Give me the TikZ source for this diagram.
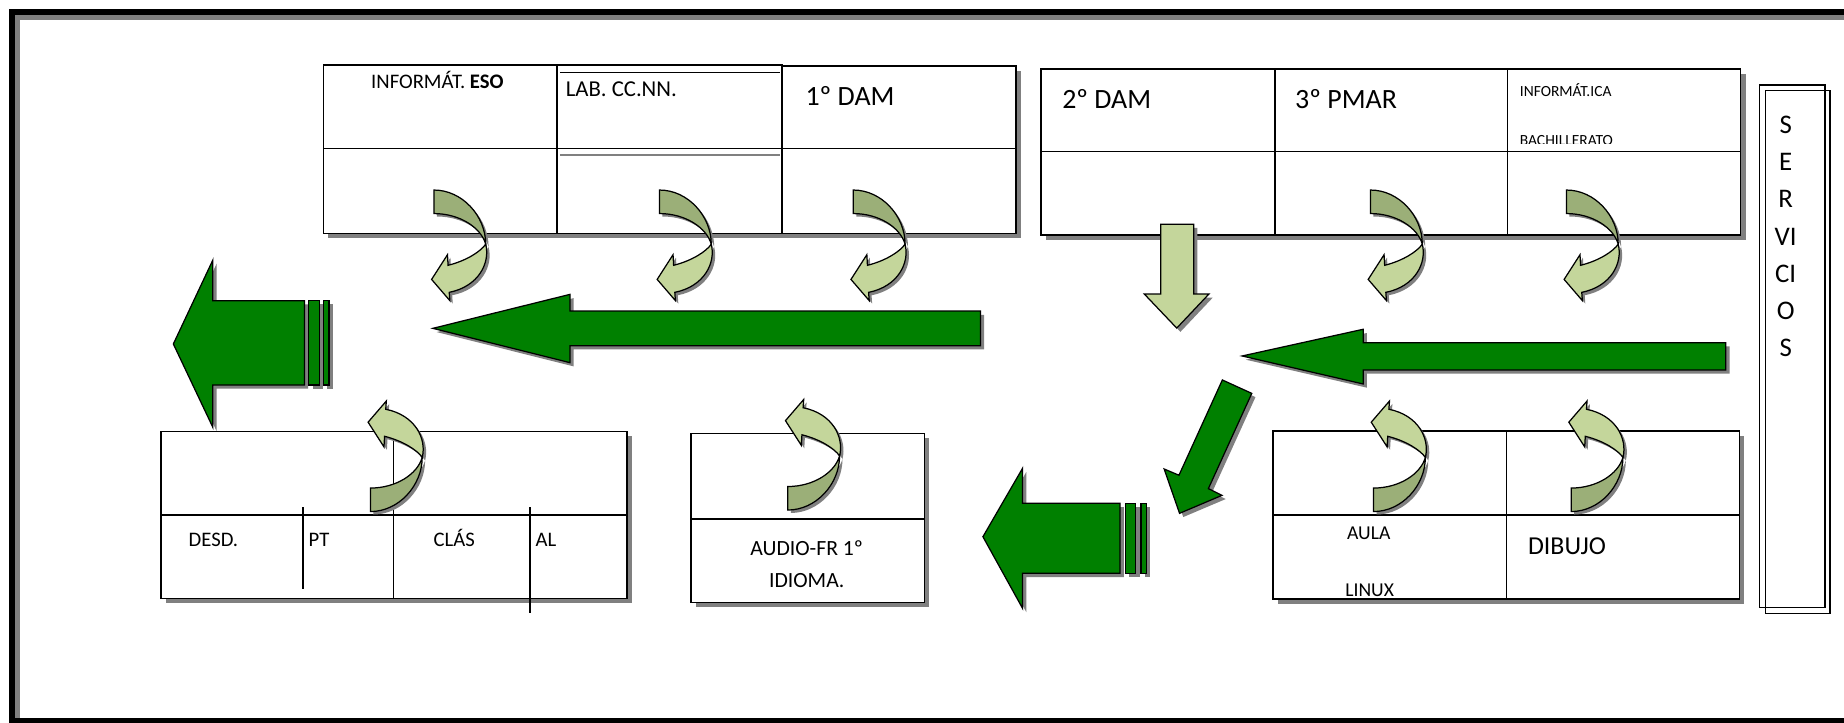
\documentclass[tikz,border=0pt]{standalone}
\usepackage{fontspec}
\setmainfont{Carlito}
\usepackage{xcolor}
\usetikzlibrary{shadows}

\definecolor{arrowgreen}{RGB}{0,128,0}
\definecolor{lightolive}{RGB}{196,214,155}
\definecolor{darkolive}{RGB}{155,175,120}
\definecolor{shadowgrey}{RGB}{128,128,128}

% the twisted band of a curved arrow, tail at the origin
\newcommand{\backband}{(0,0) .. controls (24,0) and (44,22) .. (44,46) .. controls (40,32) and (22,20) .. (0,20) -- cycle}
\newcommand{\frontband}{(44,46) .. controls (48,62) and (38,82) .. (13,87) -- (13.5,94) -- (-2,76) -- (11.5,55) -- (12,64) .. controls (28,60) and (40,52) .. (44,46) -- cycle}

\tikzset{
  room/.style={draw, fill=white, line width=0.7pt,
    drop shadow={shadow xshift=2.3pt, shadow yshift=-2.3pt, fill=shadowgrey, opacity=1}},
  wall/.style={line width=0.7pt},
  blockarrow/.style={draw, line width=0.6pt, fill=arrowgreen,
    drop shadow={shadow xshift=1.8pt, shadow yshift=-1.8pt, fill=shadowgrey, opacity=1}},
  txt/.style={inner sep=0pt, anchor=base west},
  bigtxt/.style={txt, font=\fontsize{13.5}{16}\selectfont},
  midtxt/.style={txt, font=\fontsize{10}{12}\selectfont},
  smalltxt/.style={txt, font=\fontsize{7.5}{9}\selectfont},
  pics/curvarrow/.style={code={
    \begin{scope}[yscale=#1]
      \fill[shadowgrey, shift={(2.5,2.5*#1)}] \backband;
      \fill[shadowgrey, shift={(2.5,2.5*#1)}] \frontband;
      \filldraw[fill=darkolive, line width=0.6pt] \backband;
      \filldraw[fill=lightolive, line width=0.6pt] \frontband;
    \end{scope}
  }}
}

\begin{document}
\begin{tikzpicture}[x=0.02cm, y=-0.02cm]
    \useasboundingbox (0,0) rectangle (1568,614);
    \clip (0,0) rectangle (1568,614);

    % frame
    \draw[shadowgrey, line width=2.4pt] (14.9,610.5) -- (14.9,14.9) -- (1600,14.9);
    \draw[line width=2.9pt] (10.2,10.2) rectangle (1600,613);

    % upper rooms, left
    \draw[room] (275,55.3) rectangle (473.5,198.4);
    \draw[room] (473.5,55.3) rectangle (665,198.4);
    \draw[room] (665,56) rectangle (864,198.4);
    \draw[wall] (275,126.5) -- (864,126.5) (476,61.8) -- (663,61.8);
    \draw[wall, shadowgrey] (476,131.8) -- (663,131.8);

    % upper rooms, right
    \draw[room] (885,58.7) rectangle (1480.2,199.8);
    \draw[wall] (885,129) -- (1480.2,129) (1084,58.7) -- (1084,199.8) (1281.8,58.7) -- (1281.8,199.8);

    % lower rooms
    \draw[room] (137,367) rectangle (533,509);
    \draw[wall] (137,437.9) -- (533,437.9) (334.5,367) -- (334.5,509);
    \draw[wall] (257.7,431.4) -- (257.7,501) (450.8,431.4) -- (450.8,521);
    \draw[room] (587.4,368.5) rectangle (786,512.5);
    \draw[wall] (587.4,441.3) -- (786,441.3);
    \draw[room] (1082.5,366.5) rectangle (1479,509.4);
    \draw[wall] (1082.5,437.9) -- (1479,437.9) (1281,366.5) -- (1281,509.4);

    % servicios
    \draw[wall] (1496,72.3) rectangle (1552,516.4);
    \draw[wall] (1501,77.1) rectangle (1556,521.5);
    \foreach \l [count=\i] in {S,E,R,VI,CI,O,S}
        \node[inner sep=0pt, font=\fontsize{13}{15}\selectfont] (srv\i) at (1518.4,{106+31.7*(\i-1)}) {\l};

    % labels
    \node[txt, font=\fontsize{10}{12}\selectfont] (infeso) at (315.3,75.1) {INFORMÁT. \textbf{ESO}};
    \node[txt, font=\fontsize{11}{13}\selectfont] (labcc) at (480.8,82.2) {LAB. CC.NN.};
    \node[bigtxt] (dam1) at (684.6,89.3) {1º DAM};
    \node[bigtxt] (dam2) at (902.9,92.1) {2º DAM};
    \node[bigtxt] (pmar3) at (1100.9,92.1) {3º PMAR};
    \node[smalltxt] (infica) at (1292,82.2) {INFORMÁT.ICA};
    \begin{scope}
        \clip (1285,100) rectangle (1478,122);
        \node[smalltxt] (bach) at (1292,124.1) {BACHILLERATO};
    \end{scope}
    \node[midtxt] (desd) at (160.1,464.9) {DESD.};
    \node[midtxt] (pt) at (262.1,464.9) {PT};
    \node[midtxt] (clas) at (368.4,464.9) {CLÁS};
    \node[midtxt] (al) at (455.1,464.9) {AL};
    \node[midtxt, anchor=base, font=\fontsize{10.5}{12}\selectfont] (audio) at (686,472) {AUDIO-FR 1º};
    \node[midtxt, anchor=base, font=\fontsize{10.5}{12}\selectfont] (idioma) at (686,499.4) {IDIOMA.};
    \node[txt, font=\fontsize{9.5}{11}\selectfont] (aula) at (1145.1,458.6) {AULA};
    \node[txt, font=\fontsize{9.5}{11}\selectfont] (linux) at (1143.6,506.8) {LINUX};
    \node[txt, font=\fontsize{12.5}{15}\selectfont] (dibujo) at (1299,471.1) {DIBUJO};

    % big arrows
    \path[blockarrow] (147.4,292.5) -- (181,221.1) -- (181,255.7) -- (258.9,255.7) -- (258.9,327.4) -- (181,327.4) -- (181,363.4) -- cycle;
    \path[blockarrow] (262.6,255.7) rectangle (271.8,327.4);
    \path[blockarrow] (275,255.7) rectangle (279.7,327.4);
    \path[blockarrow] (368.1,279.2) -- (484.7,250.3) -- (484.7,264.5) -- (833.7,264.5) -- (833.7,294) -- (484.7,294) -- (484.7,308.4) -- cycle;
    \path[blockarrow, fill=lightolive] (987,190.7) -- (1015,190.7) -- (1015,250) -- (1028,250) -- (1000.6,279) -- (973,250) -- (987,250) -- cycle;
    \path[blockarrow] (1056.2,302.7) -- (1159.1,280) -- (1159.1,291.4) -- (1467.5,291.4) -- (1467.5,314.6) -- (1159.1,314.6) -- (1159.1,326.5) -- cycle;
    \path[blockarrow] (1039.4,323.1) -- (1064.4,334.5) -- (1027.5,415.5) -- (1039.1,421.2) -- (1003,436.5) -- (989.9,398.8) -- (1002.5,404.1) -- cycle;
    \path[blockarrow] (835.8,456.4) -- (869.5,398.2) -- (869.5,428) -- (952.4,428) -- (952.4,487.5) -- (869.5,487.5) -- (869.5,517.3) -- cycle;
    \path[blockarrow] (957.1,428) rectangle (965.8,487.5);
    \path[blockarrow] (970.2,428) rectangle (975,487.5);

    % curved arrows
    \pic (cinf) at (369,161.6) {curvarrow=1};
    \pic (clab) at (560.8,161.6) {curvarrow=1};
    \pic (cdam) at (725.6,161.6) {curvarrow=1};
    \pic (cpmar) at (1165.4,161.6) {curvarrow=1};
    \pic (cbach) at (1332,161.6) {curvarrow=1};
    \pic (cdesd) at (315,435) {curvarrow=-1};
    \pic (caudio) at (669.9,433.7) {curvarrow=-1};
    \pic (caula) at (1168,435) {curvarrow=-1};
    \pic (cdib) at (1336,435) {curvarrow=-1};
\end{tikzpicture}
\end{document}
